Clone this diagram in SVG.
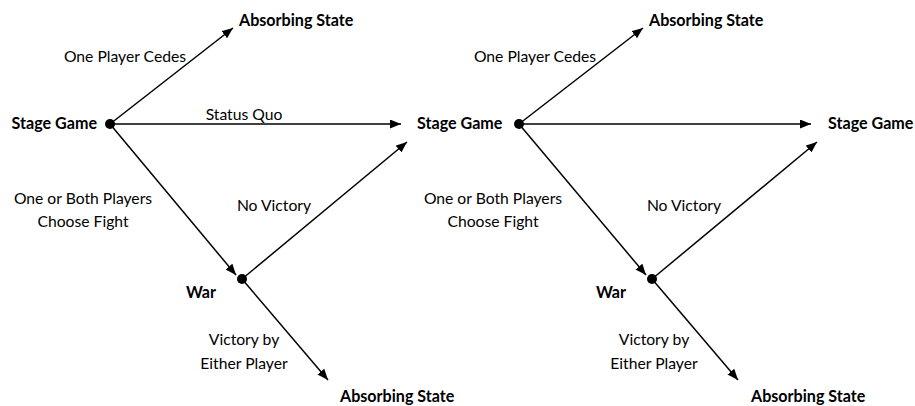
<svg xmlns="http://www.w3.org/2000/svg" width="915" height="406" viewBox="0 0 915 406">
<style>
text{font-family:Lato,"Open Sans",sans-serif;font-size:15.7px;fill:#000}
.b{font-weight:bold;font-size:16.1px}
.e{stroke:#000;stroke-width:1.5;fill:none;marker-end:url(#ah)}
</style>
<defs>
<marker id="ah" markerUnits="userSpaceOnUse" markerWidth="11" markerHeight="9" refX="11" refY="4.5" orient="auto">
<path d="M0,0 L11,4.5 L0,9 z" fill="#000"/>
</marker>
</defs>
<rect width="915" height="406" fill="#fff"/>
<g id="connectors">
<line class="e" x1="110" y1="124" x2="233" y2="28"/>
<line class="e" x1="110" y1="124" x2="401" y2="124"/>
<line class="e" x1="110" y1="124" x2="236" y2="275"/>
<line class="e" x1="242" y1="279" x2="407" y2="142"/>
<line class="e" x1="242" y1="279" x2="328" y2="380"/>
<line class="e" x1="519" y1="124" x2="643" y2="28"/>
<line class="e" x1="519" y1="124" x2="811" y2="124"/>
<line class="e" x1="519" y1="124" x2="646" y2="275"/>
<line class="e" x1="652" y1="279" x2="817" y2="142"/>
<line class="e" x1="652" y1="279" x2="738" y2="380"/>
<text x="244" y="120" text-anchor="middle">Status Quo</text>
<text x="125" y="62" text-anchor="middle">One Player Cedes</text>
<text x="535" y="62" text-anchor="middle">One Player Cedes</text>
<text x="83" y="204" text-anchor="middle">One or Both Players</text>
<text x="83" y="227" text-anchor="middle">Choose Fight</text>
<text x="493" y="204" text-anchor="middle">One or Both Players</text>
<text x="493" y="227" text-anchor="middle">Choose Fight</text>
<text x="274" y="211" text-anchor="middle">No Victory</text>
<text x="684" y="211" text-anchor="middle">No Victory</text>
<text x="244" y="345" text-anchor="middle">Victory by</text>
<text x="244" y="369" text-anchor="middle">Either Player</text>
<text x="654" y="345" text-anchor="middle">Victory by</text>
<text x="654" y="369" text-anchor="middle">Either Player</text>
</g>
<g id="stage-left"><circle cx="110" cy="124" r="5"/><text class="b" x="97" y="129" text-anchor="end">Stage Game</text></g>
<g id="absorbing-left-top"><text class="b" x="239" y="26">Absorbing State</text></g>
<g id="stage-left-next"><text class="b" x="417" y="129">Stage Game</text></g>
<g id="war-left"><circle cx="242" cy="279" r="5"/><text class="b" x="201" y="298" text-anchor="middle">War</text></g>
<g id="absorbing-left-bottom"><text class="b" x="340" y="402">Absorbing State</text></g>
<g id="stage-right"><circle cx="519" cy="124" r="5"/></g>
<g id="absorbing-right-top"><text class="b" x="649" y="26">Absorbing State</text></g>
<g id="stage-right-next"><text class="b" x="828" y="129">Stage Game</text></g>
<g id="war-right"><circle cx="652" cy="279" r="5"/><text class="b" x="611" y="298" text-anchor="middle">War</text></g>
<g id="absorbing-right-bottom"><text class="b" x="751" y="402">Absorbing State</text></g>
</svg>
